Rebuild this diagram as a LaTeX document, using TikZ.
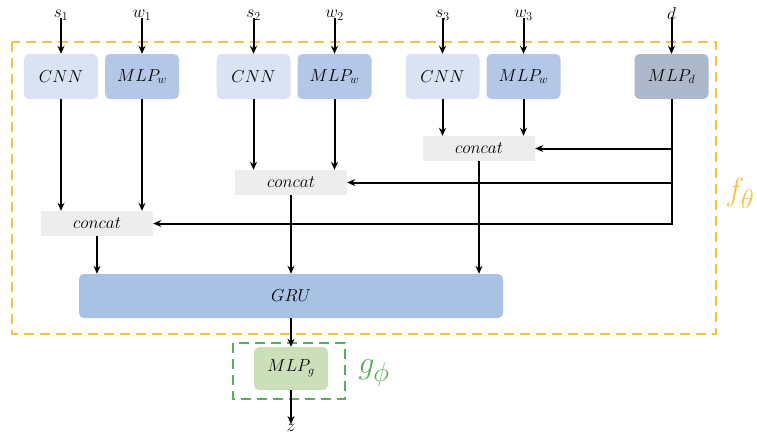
\documentclass[tikz,border=0pt]{standalone}
\usepackage{graphicx}
\usetikzlibrary{arrows.meta}
\definecolor{cnnc}{HTML}{DAE3F3}
\definecolor{mlpwc}{HTML}{B4C7E7}
\definecolor{mlpdc}{HTML}{ADB9CA}
\definecolor{catc}{HTML}{EDEDED}
\definecolor{gruc}{HTML}{A7C2E2}
\definecolor{mlpgc}{HTML}{CBE0B9}
\definecolor{yel}{HTML}{F7C244}
\definecolor{grn}{HTML}{5AAE5A}
\begin{document}
\begin{tikzpicture}[x=1pt,y=-1pt,
  every node/.style={font=\fontsize{17.28}{20}\selectfont, inner sep=0pt},
  big/.style={font=\fontsize{24.88}{28}\selectfont},
  blk/.style={rounded corners=5pt, minimum width=74pt, minimum height=45pt},
  cat/.style={fill=catc, minimum width=112pt, minimum height=25pt},
  arr/.style={-{Stealth[length=8pt,width=7pt]}, line width=2pt},
  ln/.style={line width=2pt}]
\useasboundingbox (0,0) rectangle (757,437);
% outer dashed box
\draw[yel, line width=2.5pt, dash pattern=on 10pt off 6pt] (12,42) rectangle (716,334);
\node[yel, big] (ft) at (740,193) {\scalebox{1.3}{$f_\theta$}};
% inputs
\node (s1) at (61,15) {$s_1$};
\node (w1) at (142,15) {$w_1$};
\node (s2) at (253.5,15) {$s_2$};
\node (w2) at (334.5,15) {$w_2$};
\node (s3) at (442.5,15) {$s_3$};
\node (w3) at (523.5,15) {$w_3$};
\node (d) at (671.5,13) {$d$};
% blocks
\node[blk, fill=cnnc] (cnn1) at (61,76.5) {$CNN$};
\node[blk, fill=mlpwc] (mw1) at (142,76.5) {$MLP_w$};
\node[blk, fill=cnnc] (cnn2) at (253.5,76.5) {$CNN$};
\node[blk, fill=mlpwc] (mw2) at (334.5,76.5) {$MLP_w$};
\node[blk, fill=cnnc] (cnn3) at (442.5,76.5) {$CNN$};
\node[blk, fill=mlpwc] (mw3) at (523.5,76.5) {$MLP_w$};
\node[blk, fill=mlpdc] (md) at (671.5,76.5) {$MLP_d$};
% concat
\node[cat] (c1) at (97,223.5) {$concat$};
\node[cat] (c2) at (291,182.5) {$concat$};
\node[cat] (c3) at (479,148.5) {$concat$};
% GRU
\node[blk, fill=gruc, minimum width=424pt, minimum height=44pt] (gru) at (291,296) {$GRU$};
% g
\node[blk, fill=mlpgc, minimum width=74pt, minimum height=43pt] (mg) at (291,368.5) {$MLP_g$};
\draw[grn, line width=2pt, dash pattern=on 10pt off 6pt] (233,343) rectangle (345,399);
\node[grn, big] (gp) at (374,373) {\scalebox{1.3}{$g_\phi$}};
\node (z) at (291,428) {$z$};
% arrows from inputs
\foreach \a/\b in {s1/cnn1,w1/mw1,s2/cnn2,w2/mw2,s3/cnn3,w3/mw3,d/md}
  \draw[arr] (\a.south) ++(0,2pt) -- (\b.north);
% blocks to concat
\draw[arr] (cnn1.south) -- (cnn1.south |- c1.north);
\draw[arr] (mw1.south) -- (mw1.south |- c1.north);
\draw[arr] (cnn2.south) -- (cnn2.south |- c2.north);
\draw[arr] (mw2.south) -- (mw2.south |- c2.north);
\draw[arr] (cnn3.south) -- (cnn3.south |- c3.north);
\draw[arr] (mw3.south) -- (mw3.south |- c3.north);
% d branches
\draw[ln] (md.south) -- (md.south |- c1.east) -- ++(-2pt,0);
\draw[arr] (md.south |- c3.east) -- (c3.east);
\draw[arr] (md.south |- c2.east) -- (c2.east);
\draw[arr] (md.south |- c1.east) -- (c1.east);
% concat to GRU
\draw[arr] (c1.south) -- (c1.south |- gru.north);
\draw[arr] (c2.south) -- (c2.south |- gru.north);
\draw[arr] (c3.south) -- (c3.south |- gru.north);
% GRU to MLPg to z
\draw[arr] (gru.south) -- (mg.north);
\draw[arr] (mg.south) -- (z.north);
\end{tikzpicture}
\end{document}
